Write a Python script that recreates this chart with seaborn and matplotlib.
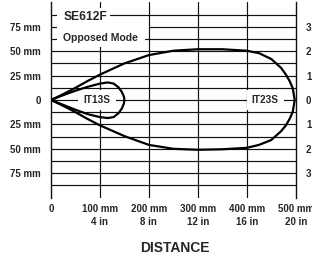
import numpy as np
import pandas as pd
import matplotlib
matplotlib.use("Agg")
import matplotlib.pyplot as plt
from matplotlib.patches import Rectangle
import seaborn as sns

# ---- data (mm) ----
it23_x = [0, 25, 50, 75, 100, 150, 200, 250, 300, 350, 400, 425, 450, 470, 480, 488, 494, 498]
it23_upper = [0, 6, 12.5, 19.5, 26, 37.5, 46, 50.5, 52, 52, 50.5, 48, 42, 33, 26, 19, 12, 0]
it23_lower = [0, -6, -12.5, -19.5, -26, -37, -46, -50, -51, -50.5, -49, -46, -41, -32, -26, -19, -12, 0]

it13_x = [0, 25, 50, 75, 100, 116, 128, 138, 145, 149, 150]
it13_upper = [0, 5, 9.5, 13.5, 16.8, 18, 16.8, 13, 8, 3.5, 0]
it13_lower = [0, -5, -10, -14.5, -17.5, -18.5, -17.5, -13.5, -8.5, -3.5, 0]

x_ticks = [0, 100, 200, 300, 400, 500]
x_labels = ["0", "100 mm\n4 in", "200 mm\n8 in", "300 mm\n12 in", "400 mm\n16 in", "500 mm\n20 in"]
y_ticks = [75, 50, 25, 0, -25, -50, -75]
y_labels_left = ["75 mm", "50 mm", "25 mm", "0", "25 mm", "50 mm", "75 mm"]
y_labels_right = ["3", "2", "1", "0", "1", "2", "3"]
grid_y = [87.5, 75, 62.5, 50, 37.5, 25, 12.5, 0, -12.5, -25, -37.5, -50, -62.5, -75, -87.5]
grid_x = [100, 200, 300, 400]

rows = []
for name, xs, up, lo in [("IT23S", it23_x, it23_upper, it23_lower),
                         ("IT13S", it13_x, it13_upper, it13_lower)]:
    path_x = list(xs) + list(xs[::-1])
    path_y = list(up) + list(lo[::-1])
    for i, (px, py) in enumerate(zip(path_x, path_y)):
        rows.append({"curve": name, "order": i, "x": px, "y": py})
df = pd.DataFrame(rows)

sns.set_theme(style="white")
plt.rcParams["font.family"] = ["Liberation Sans", "DejaVu Sans"]
plt.rcParams["font.weight"] = "bold"

fig = plt.figure(figsize=(3.12, 2.56), dpi=100)
ax = fig.add_axes([51/312, 1-197.6/256, (295.7-51)/312, (197.6-2.4)/256])
ax.set_xlim(0, 500)
ax.set_ylim(-100, 100)

gc = "#111111"
for gy in grid_y:
    ax.axhline(gy, color=gc, lw=0.85, zorder=1)
for gx in grid_x:
    ax.axvline(gx, color=gc, lw=0.85, zorder=2.5 if gx == 200 else 1)

# white panel behind the title texts
ax.add_patch(Rectangle((12, 54), 188, 40, fc="white", ec="none", zorder=2))
ax.plot([121, 200], [87.5, 87.5], color=gc, lw=0.85, zorder=2.5)
ax.plot([193, 200], [62.5, 62.5], color=gc, lw=0.85, zorder=2.5)

sns.lineplot(data=df, x="x", y="y", units="curve", estimator=None, sort=False,
             color="black", lw=1.6, ax=ax, zorder=4, legend=False)

for s in ["top", "bottom"]:
    ax.spines[s].set_visible(False)
for s in ["left", "right"]:
    ax.spines[s].set_visible(True)
    ax.spines[s].set_color(gc)
    ax.spines[s].set_linewidth(1.0)

ax.set_xticks(x_ticks)
ax.set_xticklabels(x_labels, fontsize=7, fontweight="bold", linespacing=1.35)
ax.tick_params(axis="x", length=0, pad=4.5, bottom=True)
ax.set_yticks(y_ticks)
ax.set_yticklabels(y_labels_left, fontsize=7, fontweight="bold")
ax.tick_params(axis="y", length=0, pad=7.5)
ax.set_xlabel("")
ax.set_ylabel("")

ax2 = ax.twinx()
ax2.set_ylim(-100, 100)
ax2.set_yticks(y_ticks)
ax2.set_yticklabels(y_labels_right, fontsize=7, fontweight="bold")
ax2.tick_params(axis="y", length=0, pad=7.5)
for s in ax2.spines.values():
    s.set_visible(False)

box = dict(boxstyle="square,pad=0.5", fc="white", ec="none")
ax.text(94, 0, "IT13S", ha="center", va="center", fontsize=7.3, fontweight="bold", bbox=box, zorder=3)
ax.text(438, 0, "IT23S", ha="center", va="center", fontsize=7.3, fontweight="bold", bbox=box, zorder=3)
ax.text(25, 85, "SE612F", ha="left", va="center", fontsize=8.7, fontweight="bold", zorder=3)
ax.text(25, 63.5, "Opposed Mode", ha="left", va="center", fontsize=7.5, fontweight="bold", zorder=3)

fig.text(175/312, 1-251.5/256, "DISTANCE", ha="center", va="baseline", fontsize=10, fontweight="bold")

fig.savefig("out.png", dpi=100, facecolor="white")
